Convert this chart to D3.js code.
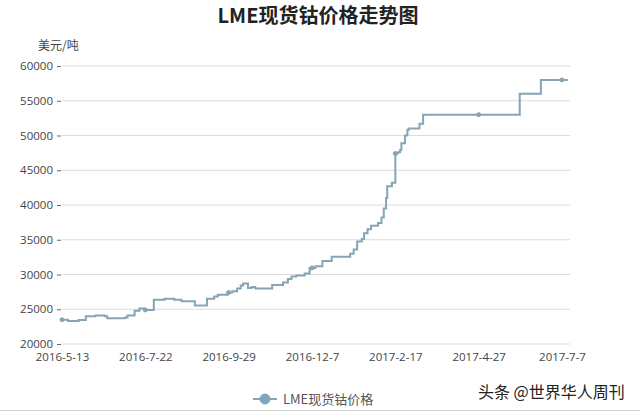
<!DOCTYPE html>
<html>
<head>
<meta charset="utf-8">
<script src="https://cdn.jsdelivr.net/npm/d3@7"></script>
<style>
  html, body { margin: 0; padding: 0; background: #fff; }
  svg { display: block; }
  text { font-family: "Open Sans", "Noto Sans CJK SC", sans-serif; }
</style>
</head>
<body>
<svg id="chart" width="640" height="412"></svg>
<script>
// ---- data ----
const title = "LME现货钴价格走势图";
const unitLabel = "美元/吨";
const seriesName = "LME现货钴价格";
const watermark = "头条 @世界华人周刊";

const dates = [
  "2016-05-13","2016-05-18","2016-05-27","2016-06-02","2016-06-10","2016-06-18","2016-06-20",
  "2016-07-05","2016-07-07","2016-07-13","2016-07-17","2016-07-21","2016-07-29","2016-08-07",
  "2016-08-15","2016-08-21","2016-09-01","2016-09-11","2016-09-17","2016-09-20","2016-09-28",
  "2016-10-02","2016-10-06","2016-10-09","2016-10-11","2016-10-15","2016-10-18","2016-10-21",
  "2016-11-04","2016-11-13","2016-11-17","2016-11-20","2016-11-24","2016-12-01","2016-12-05",
  "2016-12-10","2016-12-16","2016-12-24","2017-01-09","2017-01-12","2017-01-15","2017-01-19",
  "2017-01-21","2017-01-24","2017-01-27","2017-02-02","2017-02-05","2017-02-07","2017-02-09",
  "2017-02-10","2017-02-14","2017-02-17","2017-02-19","2017-02-21","2017-02-22","2017-02-25",
  "2017-02-27","2017-02-28","2017-03-09","2017-03-12","2017-06-01","2017-06-19","2017-07-12"
];
const prices = [
  23500,23300,23450,24000,24100,24000,23700,
  23800,24100,24800,25100,24900,26350,26500,
  26350,26150,25550,26500,26850,27100,27400,
  27600,28000,28400,28700,28050,28200,28000,
  28500,28850,29350,29700,29850,30150,30950,
  31200,31950,32550,33000,33600,34750,35100,
  35950,36500,37000,37400,38200,39500,41000,
  42700,43200,47400,47600,47900,48900,50000,
  50800,51000,51700,53000,56000,58000,58000
];
const tickDates = ["2016-05-13","2016-07-22","2016-09-29","2016-12-07","2017-02-17","2017-04-27","2017-07-07"];
const tickLabels = ["2016-5-13","2016-7-22","2016-9-29","2016-12-7","2017-2-17","2017-4-27","2017-7-7"];
const yTicks = [20000,25000,30000,35000,40000,45000,50000,55000,60000];

// ---- layout ----
const parse = d3.timeParse("%Y-%m-%d");
const data = dates.map((d, i) => ({ date: parse(d), value: prices[i] }));
const tickDateObjs = tickDates.map(parse);

const plotLeft = 62, plotRight = 570, plotTop = 66, plotBottom = 344;
const firstTick = 62, lastTick = 562;
const step = (lastTick - firstTick) / (tickDateObjs.length - 1);

const svg = d3.select("#chart");
const lineColor = "#87a4b4";

// piecewise time scale: category-like even spacing between labelled dates
const x = d3.scaleTime()
  .domain(tickDateObjs)
  .range(tickDateObjs.map((d, i) => firstTick + i * step));

const y = d3.scaleLinear().domain([20000, 60000]).range([plotBottom, plotTop]);

// title
svg.append("text")
  .attr("x", 318).attr("y", 23)
  .attr("text-anchor", "middle")
  .attr("font-size", 20).attr("font-weight", "bold")
  .attr("fill", "#222")
  .style("font-family", "'Noto Sans CJK SC', sans-serif")
  .text(title);

// unit label
svg.append("text")
  .attr("x", 38).attr("y", 50)
  .attr("font-size", 12).attr("fill", "#444")
  .style("font-family", "'Noto Sans CJK SC', sans-serif")
  .text(unitLabel);

// grid lines
svg.append("g").selectAll("line").data(yTicks).join("line")
  .attr("x1", plotLeft).attr("x2", plotRight)
  .attr("y1", d => y(d)).attr("y2", d => y(d))
  .attr("stroke", "#dcdcdc").attr("stroke-width", 1);

// y axis
const yAxis = svg.append("g")
  .attr("transform", `translate(${plotLeft - 1},0)`)
  .call(d3.axisLeft(y).tickValues(yTicks).tickSize(4).tickPadding(4).tickFormat(d3.format("d")));
yAxis.select(".domain").remove();
yAxis.selectAll(".tick line").attr("stroke", "#666");
yAxis.selectAll("text").attr("font-size", 11.5).attr("fill", "#444")
  .style("font-family", "'Open Sans', sans-serif");

// x axis
const xAxis = svg.append("g")
  .attr("transform", `translate(0,${plotBottom})`)
  .call(d3.axisBottom(x).tickValues(tickDateObjs).tickSize(0).tickPadding(9)
    .tickFormat((d, i) => tickLabels[i]));
xAxis.select(".domain").remove();
xAxis.selectAll("text").attr("font-size", 11.5).attr("fill", "#444")
  .style("font-family", "'Open Sans', sans-serif");

// line
const line = d3.line()
  .x(d => x(d.date))
  .y(d => y(d.value))
  .curve(d3.curveStepAfter);

svg.append("path")
  .datum(data)
  .attr("fill", "none")
  .attr("stroke", lineColor)
  .attr("stroke-width", 2)
  .attr("d", line);

// markers at labelled dates
const bisect = d3.bisector(d => d.date).right;
const markerData = tickDateObjs.map(t => {
  const idx = Math.max(0, bisect(data, t) - 1);
  return { date: t, value: data[idx].value };
});
svg.append("g").selectAll("circle").data(markerData).join("circle")
  .attr("cx", d => x(d.date)).attr("cy", d => y(d.value))
  .attr("r", 2)
  .attr("fill", lineColor).attr("stroke", lineColor);

// legend
const lg = svg.append("g").attr("transform", "translate(265,399)");
lg.append("line").attr("x1", -12).attr("x2", 12).attr("y1", 0).attr("y2", 0)
  .attr("stroke", lineColor).attr("stroke-width", 2);
lg.append("circle").attr("r", 5).attr("fill", "#7ea6bf").attr("stroke", lineColor);
lg.append("text").attr("x", 18).attr("y", 4.5)
  .attr("font-size", 13).attr("fill", "#555")
  .style("font-family", "'Noto Sans CJK SC', sans-serif")
  .text(seriesName);

// watermark
svg.append("text")
  .attr("x", 478).attr("y", 398)
  .attr("font-size", 16).attr("fill", "#222")
  .style("font-family", "'Noto Sans CJK SC', sans-serif")
  .text(watermark);

// bottom border line
svg.append("line").attr("x1", 0).attr("x2", 640).attr("y1", 410.5).attr("y2", 410.5)
  .attr("stroke", "#cfcfcf");
</script>
</body>
</html>
